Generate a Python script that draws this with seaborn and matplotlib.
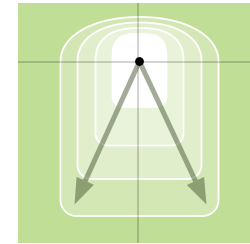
import matplotlib
matplotlib.use("agg")
import matplotlib.pyplot as plt
from matplotlib.patches import Polygon
import numpy as np
import seaborn as sns

# nested zones, outer to inner (units ~ pixels, origin at the dot)
halfWidths = [79, 62, 44, 27]
topHeights = [44.5, 39, 33.5, 27.5]
bottomDepths = [154.5, 117.5, 84, 45.5]
topShape = [2.1, 2.2, 2.45, 3.2]     # superellipse exponent of the dome
bottomRadii = [16, 14, 12, 10]
zoneAlphas = [0.3, 0.3, 0.3, 1.0]

# two vectors from the origin
arrowDx = [-65, 67]
arrowDy = [-143, -143]

bgColor = '#c0de96'


def zoneOutline(a, b, d, n, r):
    t = np.linspace(0, np.pi, 80)
    c, s = np.cos(t), np.sin(t)
    top = np.column_stack([a * np.sign(c) * np.abs(c) ** (2.0 / n),
                           b * np.abs(s) ** (2.0 / n)])
    q = np.linspace(np.pi, 1.5 * np.pi, 20)
    bl = np.column_stack([-a + r + r * np.cos(q), -d + r + r * np.sin(q)])
    q = np.linspace(1.5 * np.pi, 2 * np.pi, 20)
    br = np.column_stack([a - r + r * np.cos(q), -d + r + r * np.sin(q)])
    return np.vstack([top, bl, br])


sns.set_style("white", {"axes.facecolor": bgColor})
fig = plt.figure(figsize=(2.51, 2.44), dpi=100)
ax = fig.add_axes([18 / 251, 1 / 244, 233 / 251, 240 / 244])

for a, b, d, n, r, al in zip(halfWidths, topHeights, bottomDepths,
                             topShape, bottomRadii, zoneAlphas):
    poly = Polygon(zoneOutline(a, b, d, n, r), closed=True,
                   facecolor=(1, 1, 1, al), edgecolor='white', lw=1.3, zorder=1)
    ax.add_patch(poly)

ax.axhline(0, color=(0, 0, 0, 0.2), lw=1.2, zorder=2)
ax.axvline(-1.5, color=(0, 0, 0, 0.2), lw=1.2, zorder=2)

for dx, dy in zip(arrowDx, arrowDy):
    ax.arrow(0, 0, dx, dy, width=5, head_width=19, head_length=26,
             length_includes_head=True, color=(0.27, 0.35, 0.2, 0.5),
             lw=0, zorder=3)

sns.scatterplot(x=[0], y=[0], color='black', s=40, edgecolor='none',
                ax=ax, zorder=4)

ax.set_xlim(-121.5, 111.5)
ax.set_ylim(-181.5, 58.5)
ax.set_xticks([])
ax.set_yticks([])
for sp in ax.spines.values():
    sp.set_visible(False)

fig.savefig('out.png', dpi=100)
plt.close('all')
